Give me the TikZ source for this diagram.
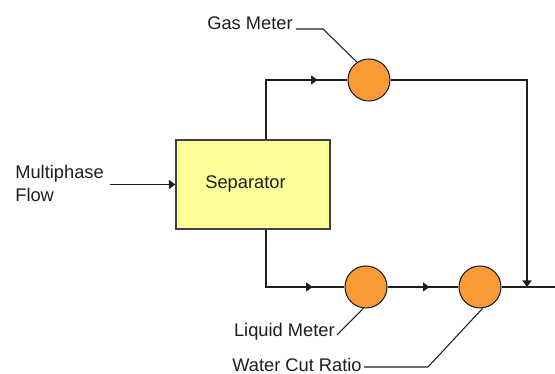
\documentclass[tikz,border=0pt]{standalone}
\usepackage{fontspec}
\setmainfont{Liberation Sans}
\definecolor{meter}{RGB}{248,154,56}
\definecolor{vessel}{RGB}{255,255,153}
\definecolor{ink}{RGB}{30,30,30}
\usetikzlibrary{arrows.meta,positioning,decorations.markings}

\begin{document}
\begin{tikzpicture}[
    font=\fontsize{10.4}{13}\selectfont, text=ink,
    pipe/.style={draw=ink, line width=0.8pt},
    leader/.style={draw=ink, line width=0.6pt},
    meterdot/.style={circle, draw=ink, line width=0.6pt, fill=meter, minimum size=0.84cm, inner sep=0pt},
    tip/.style={-{Triangle[length=0.13cm,width=0.18cm]}},
    flowmark/.style={postaction={decorate}, decoration={markings,
      mark=at position #1 with {\arrow{Triangle[length=0.13cm,width=0.18cm]}}}}]
  \useasboundingbox (0,0) rectangle (11.1,7.48);
  \node[draw=ink!85, line width=0.7pt, fill=vessel, minimum width=3.08cm, minimum height=1.78cm] (sep) at (5.06,3.79) {Separator\hspace*{0.3cm}};
  \node[anchor=west, align=left, inner sep=0pt] (inlet) at (0.30,3.81) {Multiphase\\Flow};
  \node[meterdot] (gas) at (7.38,5.88) {};
  \node[meterdot] (liq) at (7.32,1.74) {};
  \node[meterdot] (wcut) at (9.60,1.74) {};
  \coordinate (join) at (10.54,1.74);
  \coordinate (outlet) at (11.1,1.74);
  \draw[pipe, tip] ([xshift=0.11cm]inlet.east |- sep.west) -- (sep.west);
  \draw[pipe, flowmark=2.22cm] ([xshift=0.26cm]sep.north) |- (gas.west);
  \draw[pipe, flowmark=2.08cm] ([xshift=0.26cm]sep.south) |- (liq.west);
  \draw[pipe, flowmark=0.84cm] (liq.east) -- (wcut.west);
  \draw[pipe] (wcut.east) -- (outlet);
  \draw[pipe, tip] (gas.east) -| (join);
  \node[anchor=base east, inner sep=0pt] (gasLbl) at (5.86,6.88) {Gas Meter};
  \node[anchor=base east, inner sep=0pt] (liqLbl) at (6.70,0.74) {Liquid Meter};
  \node[anchor=base east, inner sep=0pt] (wcLbl) at (7.24,0.04) {Water Cut Ratio};
  \coordinate (gasKnee) at (6.46,6.90);
  \coordinate (wcKnee) at (8.56,0.14);
  \draw[leader] ([xshift=0.06cm,yshift=0.02cm]gasLbl.base east) -- (gasKnee) -- (gas.124);
  \draw[leader] ([xshift=0.04cm,yshift=0.04cm]liqLbl.base east) -- (liq.263);
  \draw[leader] ([xshift=0.04cm,yshift=0.1cm]wcLbl.base east) -- (wcKnee) -- (wcut.277);
\end{tikzpicture}
\end{document}
